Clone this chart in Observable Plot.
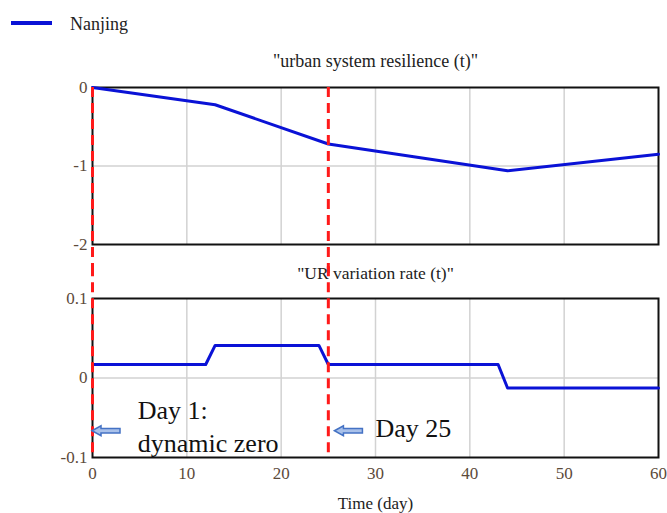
<!DOCTYPE html>
<html>
<head>
<meta charset="utf-8">
<script src="https://cdn.jsdelivr.net/npm/d3@7"></script>
<script src="https://cdn.jsdelivr.net/npm/@observablehq/plot@0.6"></script>
<style>
  html, body { margin: 0; padding: 0; background: #fff; }
  #chart { width: 667px; font-family: "Liberation Serif", "Times New Roman", serif; }
  .legend { position: relative; height: 40px; }
  .legend svg { position: absolute; left: 0; top: 0; }
  .legend span { position: absolute; left: 70px; top: 12px; font-size: 18px; line-height: 24px; color: #222; }
  #chart svg.plot { display: block; }
</style>
</head>
<body>
<div id="chart"></div>
<script>
// Simulated response of Nanjing over 60 days
const seriesName = "Nanjing";
const resilienceDays = [0, 13, 25, 44, 60];
const resilienceValues = [0, -0.22, -0.72, -1.06, -0.85];
const rateDays = [0, 12, 13, 24, 25, 43, 44, 60];
const rateValues = [0.017, 0.017, 0.041, 0.041, 0.017, 0.017, -0.0125, -0.0125];

// Reference days marked with dashed lines
const markerDays = [0, 25];

// Axis ticks
const xTicks = [0, 10, 20, 30, 40, 50, 60];
const xGrid = [10, 20, 30, 40, 50];
const resilienceTicks = [0, -1, -2];
const rateTicks = [0.1, 0, -0.1];

// Annotations in the lower panel
const notes = [
  {x: 4.8, y: -0.059, text: "Day 1:\ndynamic zero"},
  {x: 30, y: -0.0605, text: "Day 25"}
];
const arrows = [{x: 0, y: -0.067}, {x: 25.7, y: -0.067}];

const lineColor = "#0a12d6";
const dashColor = "#ff1a1a";
const gridColor = "#d2d2d2";
const tickColor = "#5c4a3a";
const font = '"Liberation Serif", "Times New Roman", serif';

const resilience = resilienceDays.map((d, i) => ({day: d, value: resilienceValues[i]}));
const rate = rateDays.map((d, i) => ({day: d, value: rateValues[i]}));

const chart = document.getElementById("chart");

// Legend
const legend = document.createElement("div");
legend.className = "legend";
legend.innerHTML = `<svg width="60" height="40"><line x1="11" y1="23" x2="52" y2="23" stroke="${lineColor}" stroke-width="4"/></svg><span>${seriesName}</span>`;
chart.appendChild(legend);

// Hollow block arrows pointing left, tip at the given data position
function blockArrows(points) {
  return (index, scales) => {
    const ns = "http://www.w3.org/2000/svg";
    const g = document.createElementNS(ns, "g");
    for (const p of points) {
      const x = scales.x(p.x), y = scales.y(p.y);
      const path = document.createElementNS(ns, "path");
      path.setAttribute("d",
        `M${x},${y} L${x + 9},${y - 5} L${x + 9},${y - 2.3} L${x + 28},${y - 2.3} ` +
        `L${x + 28},${y + 2.3} L${x + 9},${y + 2.3} L${x + 9},${y + 5} Z`);
      path.setAttribute("fill", "#a9c1ea");
      path.setAttribute("stroke", "#4472c4");
      path.setAttribute("stroke-width", "1.5");
      path.setAttribute("stroke-linejoin", "miter");
      g.appendChild(path);
    }
    return g;
  };
}

const common = {
  width: 667,
  marginLeft: 92,
  marginRight: 9,
  style: {fontFamily: font, fontSize: "17px", background: "#fff", overflow: "visible"},
  x: {domain: [0, 60], axis: null}
};

// Upper panel: urban system resilience
const upperPanel = Plot.plot({
  ...common,
  height: 230,
  marginTop: 47,
  marginBottom: 26,
  y: {domain: [-2, 0], axis: null},
  marks: [
    Plot.gridX(xGrid, {stroke: gridColor, strokeOpacity: 1, strokeWidth: 1.5}),
    Plot.gridY([-1], {stroke: gridColor, strokeOpacity: 1, strokeWidth: 1.5}),
    Plot.axisY(resilienceTicks, {tickSize: 0, tickPadding: 5, fill: tickColor, fontSize: 17, label: null, tickFormat: d => String(d)}),
    Plot.frame({stroke: "#111", strokeWidth: 2}),
    Plot.line(resilience, {x: "day", y: "value", stroke: lineColor, strokeWidth: 3}),
    Plot.ruleX(markerDays, {y1: 0, y2: -2.4, stroke: dashColor, strokeWidth: 3, strokeDasharray: "10,6"}),
    Plot.text(['"urban system resilience (t)"'], {frameAnchor: "top", dy: -33, fontSize: 18, fill: "#222"})
  ]
});
upperPanel.classList.add("plot");
chart.appendChild(upperPanel);

// Lower panel: UR variation rate
const lowerPanel = Plot.plot({
  ...common,
  height: 243,
  marginTop: 28,
  marginBottom: 56,
  y: {domain: [-0.1, 0.1], axis: null},
  marks: [
    Plot.gridX(xGrid, {stroke: gridColor, strokeOpacity: 1, strokeWidth: 1.5}),
    Plot.gridY([0], {stroke: gridColor, strokeOpacity: 1, strokeWidth: 1.5}),
    Plot.axisY(rateTicks, {tickSize: 0, tickPadding: 5, fill: tickColor, fontSize: 17, label: null, tickFormat: d => String(d)}),
    Plot.axisX(xTicks, {tickSize: 0, tickPadding: 9, fill: tickColor, fontSize: 17, label: null, tickFormat: d => String(d)}),
    Plot.frame({stroke: "#111", strokeWidth: 2}),
    Plot.line(rate, {x: "day", y: "value", stroke: lineColor, strokeWidth: 3}),
    Plot.ruleX(markerDays, {y1: 0.14, y2: -0.1, stroke: dashColor, strokeWidth: 3, strokeDasharray: "10,6"}),
    Plot.text(['"UR variation rate (t)"'], {frameAnchor: "top", dy: -32, fontSize: 17.5, fill: "#222"}),
    Plot.text(["Time (day)"], {frameAnchor: "bottom", dy: 51, fontSize: 17, fill: "#222"}),
    Plot.text(notes, {x: "x", y: "y", text: "text", textAnchor: "start", fontSize: 26, lineHeight: 1.27, fill: "#111"}),
    blockArrows(arrows)
  ]
});
lowerPanel.classList.add("plot");
chart.appendChild(lowerPanel);
</script>
</body>
</html>
